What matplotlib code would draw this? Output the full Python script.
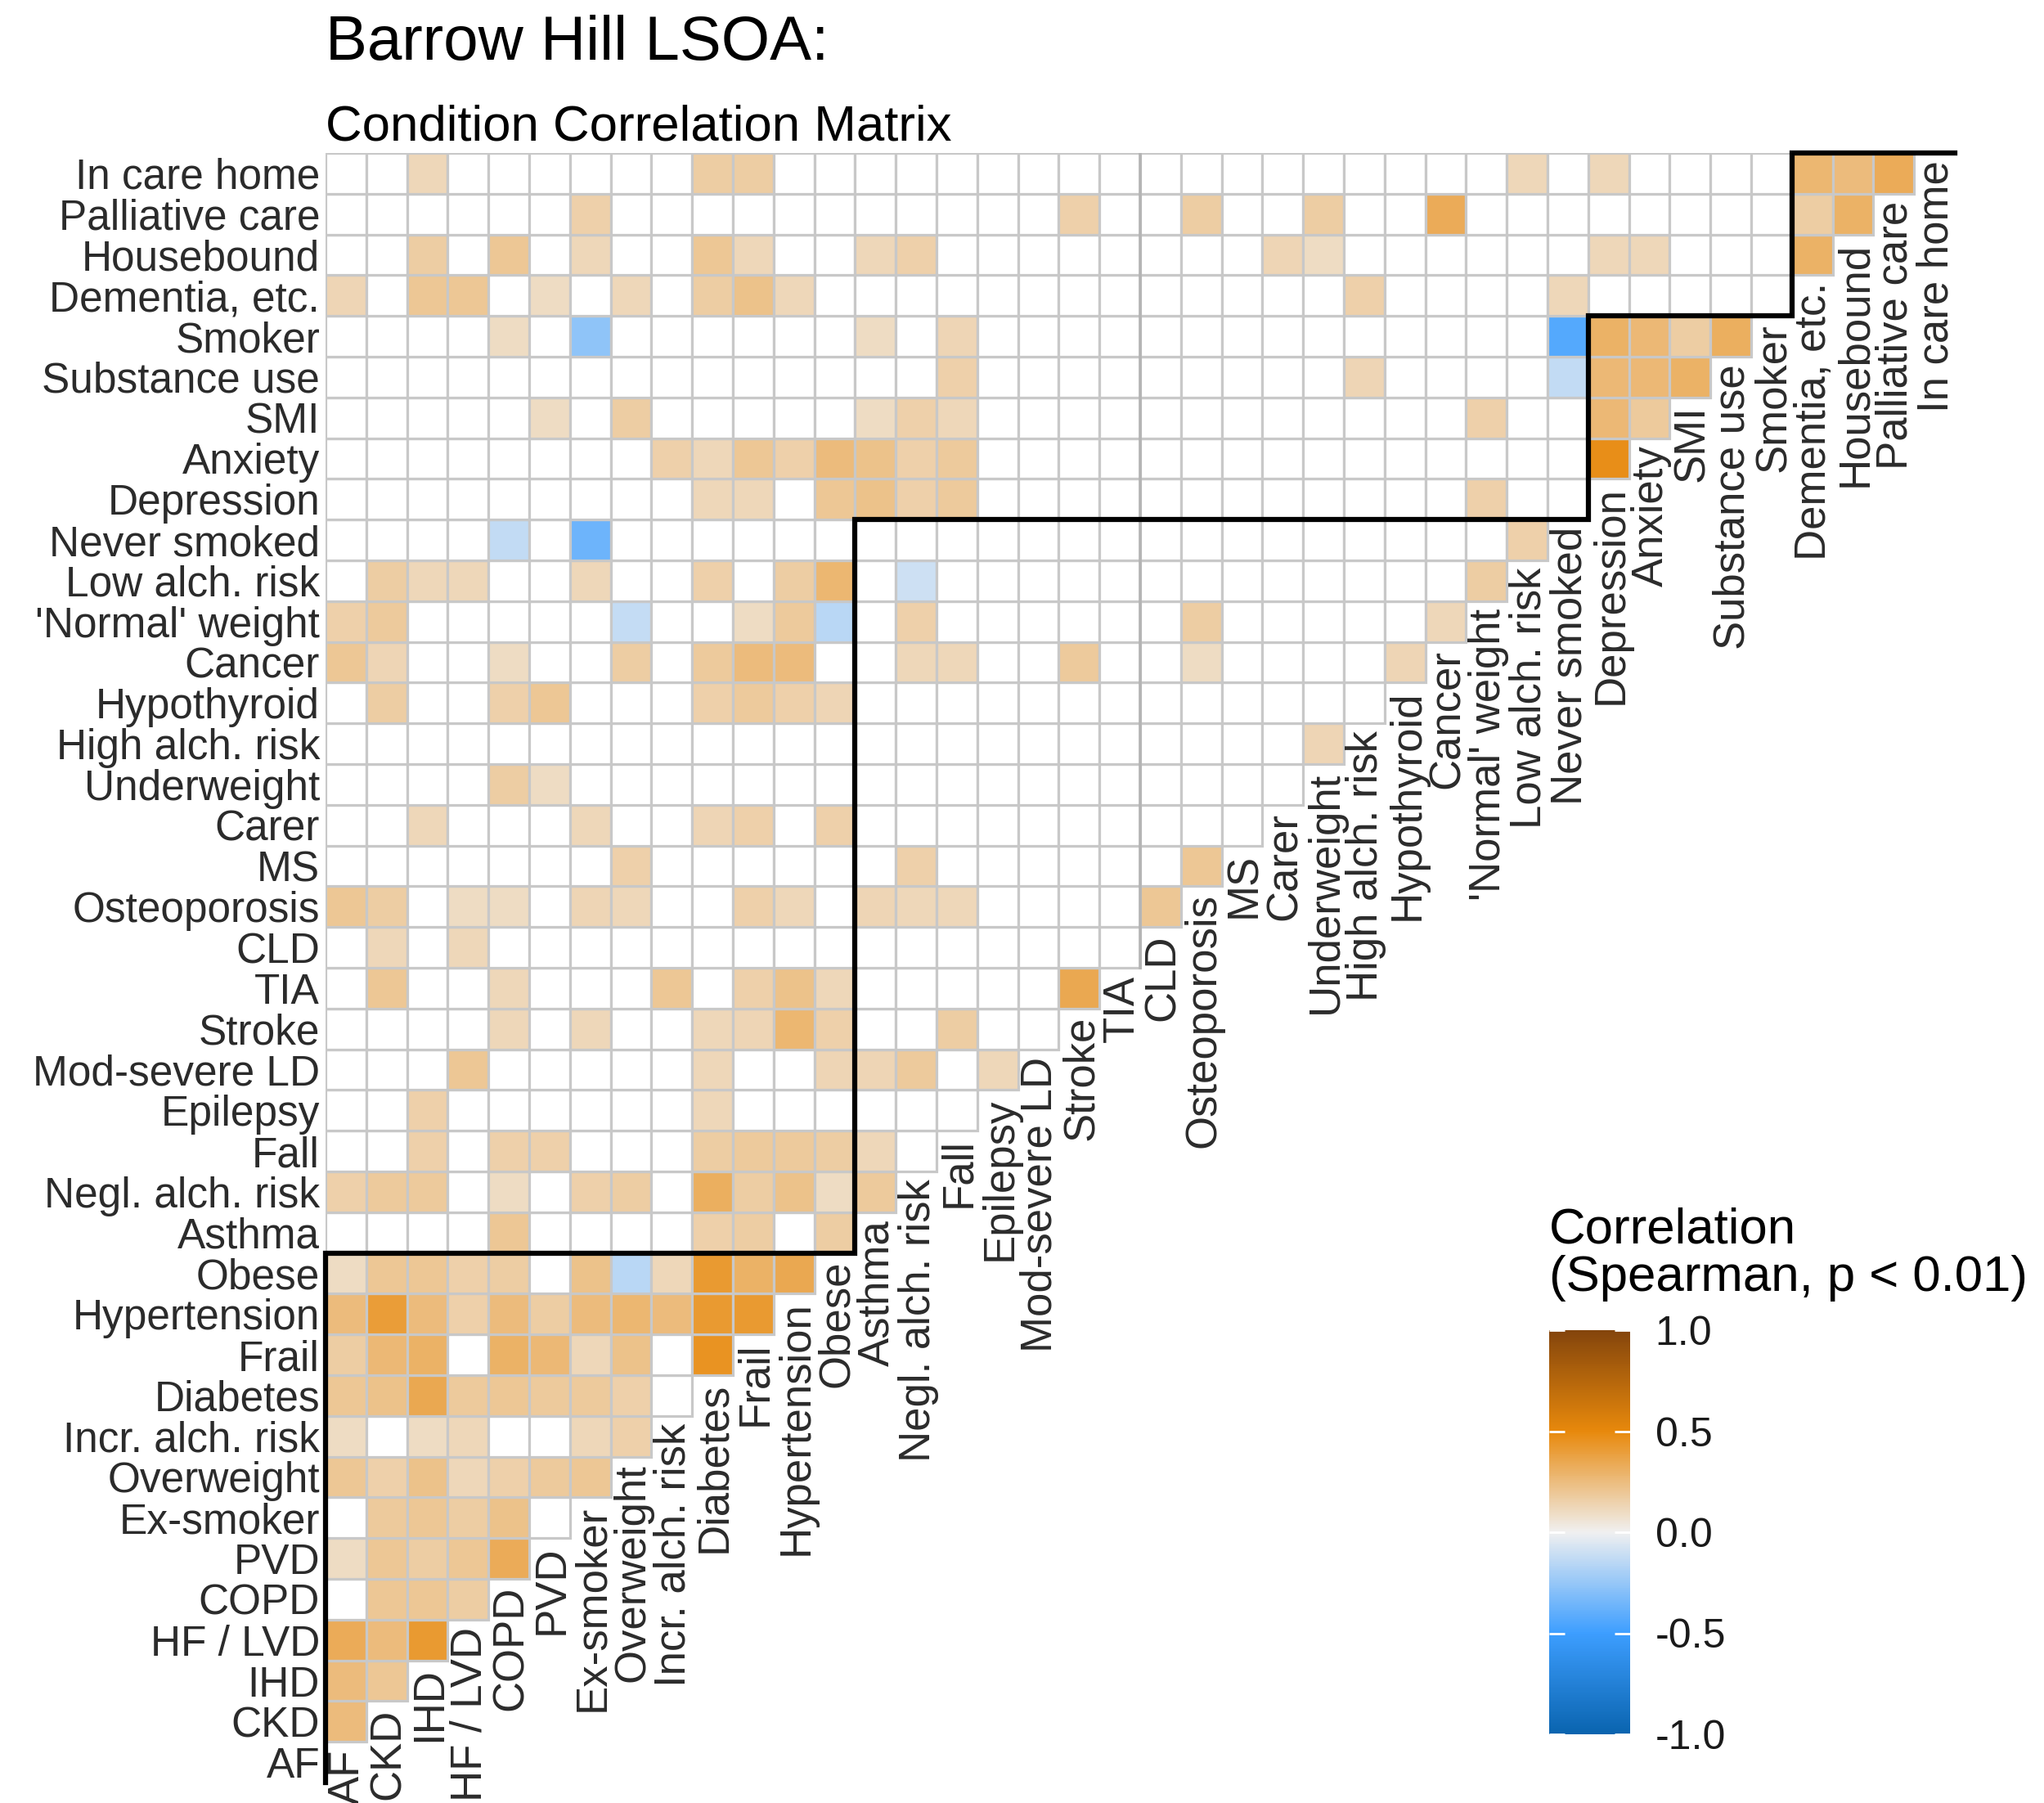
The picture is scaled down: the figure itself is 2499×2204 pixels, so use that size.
import numpy as np
import matplotlib.pyplot as plt
from matplotlib.colors import LinearSegmentedColormap, Normalize
from matplotlib.patches import Rectangle
import matplotlib.cm as cm

plt.rcParams['font.family'] = ['Liberation Sans', 'DejaVu Sans']

# conditions, bottom row / left column first
conditions = ["AF", "CKD", "IHD", "HF / LVD", "COPD", "PVD", "Ex-smoker", "Overweight",
              "Incr. alch. risk", "Diabetes", "Frail", "Hypertension", "Obese",
              "Asthma", "Negl. alch. risk", "Fall", "Epilepsy", "Mod-severe LD", "Stroke",
              "TIA", "CLD", "Osteoporosis", "MS", "Carer", "Underweight", "High alch. risk",
              "Hypothyroid", "Cancer", "'Normal' weight", "Low alch. risk", "Never smoked",
              "Depression", "Anxiety", "SMI", "Substance use", "Smoker",
              "Dementia, etc.", "Housebound", "Palliative care", "In care home"]

# sizes of the clusters marked by the black staircase
cluster_sizes = [13, 18, 5, 4]

# lower triangle: row i = correlation of condition i with conditions 0..i-1
# (0 = not significant at p < 0.01)
rho = [
    [],
    [0.25],
    [0.25, 0.2],
    [0.33, 0.25, 0.42],
    [0, 0.2, 0.2, 0.17],
    [0.1, 0.2, 0.17, 0.2, 0.33],
    [0, 0.18, 0.2, 0.17, 0.22, 0],
    [0.2, 0.15, 0.22, 0.12, 0.15, 0.18, 0.2],
    [0.1, 0, 0.1, 0.12, 0, 0, 0.12, 0.15],
    [0.2, 0.22, 0.35, 0.18, 0.2, 0.18, 0.18, 0.15, 0],
    [0.17, 0.27, 0.3, 0, 0.3, 0.27, 0.12, 0.22, 0, 0.45],
    [0.25, 0.4, 0.25, 0.15, 0.25, 0.17, 0.25, 0.28, 0.25, 0.42, 0.42],
    [0.1, 0.2, 0.2, 0.15, 0.17, 0, 0.22, -0.15, 0.12, 0.42, 0.3, 0.35],
    [0, 0, 0, 0, 0.2, 0, 0, 0, 0, 0.15, 0.17, 0, 0.17],
    [0.15, 0.18, 0.18, 0, 0.1, 0, 0.15, 0.17, 0, 0.32, 0.17, 0.22, 0.1, 0.18],
    [0, 0, 0.15, 0, 0.15, 0.15, 0, 0, 0, 0.17, 0.18, 0.18, 0.17, 0.12, 0],
    [0, 0, 0.15, 0, 0, 0, 0, 0, 0, 0.12, 0, 0, 0, 0, 0, 0],
    [0, 0, 0, 0.2, 0, 0, 0, 0, 0, 0.12, 0, 0, 0.13, 0.13, 0.18, 0, 0.12],
    [0, 0, 0, 0, 0.12, 0, 0.12, 0, 0, 0.12, 0.13, 0.28, 0.15, 0, 0, 0.17, 0, 0],
    [0, 0.2, 0, 0, 0.12, 0, 0, 0, 0.2, 0, 0.15, 0.22, 0.12, 0, 0, 0, 0, 0, 0.35],
    [0, 0.12, 0, 0.12, 0, 0, 0, 0, 0, 0, 0, 0, 0, 0, 0, 0, 0, 0, 0, 0],
    [0.2, 0.17, 0, 0.1, 0.1, 0, 0.13, 0.12, 0, 0, 0.15, 0.12, 0, 0.13, 0.12, 0.12, 0, 0, 0, 0,
     0.2],
    [0, 0, 0, 0, 0, 0, 0, 0.15, 0, 0, 0, 0, 0, 0, 0.15, 0, 0, 0, 0, 0,
     0, 0.2],
    [0, 0, 0.12, 0, 0, 0, 0.12, 0, 0, 0.13, 0.15, 0, 0.15, 0, 0, 0, 0, 0, 0, 0,
     0, 0, 0],
    [0, 0, 0, 0, 0.17, 0.1, 0, 0, 0, 0, 0, 0, 0, 0, 0, 0, 0, 0, 0, 0,
     0, 0, 0, 0],
    [0, 0, 0, 0, 0, 0, 0, 0, 0, 0, 0, 0, 0, 0, 0, 0, 0, 0, 0, 0,
     0, 0, 0, 0, 0.13],
    [0, 0.17, 0, 0, 0.15, 0.2, 0, 0, 0, 0.15, 0.18, 0.15, 0.13, 0, 0, 0, 0, 0, 0, 0,
     0, 0, 0, 0, 0, 0],
    [0.2, 0.13, 0, 0, 0.1, 0, 0, 0.17, 0, 0.18, 0.25, 0.25, 0, 0, 0.12, 0.12, 0, 0, 0.18, 0,
     0, 0.1, 0, 0, 0, 0, 0.13],
    [0.15, 0.18, 0, 0, 0, 0, 0, -0.12, 0, 0, 0.1, 0.18, -0.15, 0, 0.15, 0, 0, 0, 0, 0,
     0, 0.17, 0, 0, 0, 0, 0, 0.12],
    [0, 0.17, 0.12, 0.12, 0, 0, 0.12, 0, 0, 0.15, 0, 0.17, 0.28, 0, -0.1, 0, 0, 0, 0, 0,
     0, 0, 0, 0, 0, 0, 0, 0, 0.17],
    [0, 0, 0, 0, -0.13, 0, -0.36, 0, 0, 0, 0, 0, 0, 0, 0, 0, 0, 0, 0, 0,
     0, 0, 0, 0, 0, 0, 0, 0, 0, 0.15],
    [0, 0, 0, 0, 0, 0, 0, 0, 0, 0.12, 0.12, 0, 0.2, 0.22, 0.15, 0.18, 0, 0, 0, 0,
     0, 0, 0, 0, 0, 0, 0, 0, 0.15, 0, 0],
    [0, 0, 0, 0, 0, 0, 0, 0, 0.15, 0.12, 0.2, 0.15, 0.25, 0.22, 0.15, 0.18, 0, 0, 0, 0,
     0, 0, 0, 0, 0, 0, 0, 0, 0, 0, 0, 0.47],
    [0, 0, 0, 0, 0, 0.1, 0, 0.17, 0, 0, 0, 0, 0, 0.1, 0.15, 0.12, 0, 0, 0, 0,
     0, 0, 0, 0, 0, 0, 0, 0, 0.15, 0, 0, 0.27, 0.18],
    [0, 0, 0, 0, 0, 0, 0, 0, 0, 0, 0, 0, 0, 0, 0, 0.15, 0, 0, 0, 0,
     0, 0, 0, 0, 0, 0.13, 0, 0, 0, 0, -0.13, 0.27, 0.27, 0.3],
    [0, 0, 0, 0, 0.1, 0, -0.27, 0, 0, 0, 0, 0, 0, 0.1, 0, 0.13, 0, 0, 0, 0,
     0, 0, 0, 0, 0, 0, 0, 0, 0, 0, -0.43, 0.3, 0.27, 0.17, 0.32],
    [0.13, 0, 0.2, 0.2, 0, 0.1, 0, 0.12, 0, 0.17, 0.22, 0.12, 0, 0, 0, 0, 0, 0, 0, 0,
     0, 0, 0, 0, 0, 0.15, 0, 0, 0, 0, 0.12, 0, 0, 0, 0, 0],
    [0, 0, 0.17, 0, 0.2, 0, 0.12, 0, 0, 0.2, 0.12, 0, 0, 0.12, 0.15, 0, 0, 0, 0, 0,
     0, 0, 0, 0.13, 0.1, 0, 0, 0, 0, 0, 0, 0.12, 0.12, 0, 0, 0, 0.3],
    [0, 0, 0, 0, 0, 0, 0.15, 0, 0, 0, 0, 0, 0, 0, 0, 0, 0, 0, 0.15, 0,
     0, 0.17, 0, 0, 0.17, 0, 0, 0.33, 0, 0, 0, 0, 0, 0, 0, 0, 0.17, 0.3],
    [0, 0, 0.12, 0, 0, 0, 0, 0, 0, 0.17, 0.17, 0, 0, 0, 0, 0, 0, 0, 0, 0,
     0, 0, 0, 0, 0, 0, 0, 0, 0, 0.12, 0, 0.12, 0, 0, 0, 0, 0.28, 0.25, 0.33],
]

cbar_ticks = [-1.0, -0.5, 0.0, 0.5, 1.0]

n = len(conditions)
cmap = LinearSegmentedColormap.from_list(
    "corr", [(0.0, "#0a64af"), (0.25, "#3d9eff"), (0.5, "#f0f0f0"),
             (0.75, "#e8890c"), (1.0, "#84450c")])
norm = Normalize(-1, 1)

fig = plt.figure(figsize=(24.99, 22.04), dpi=100)
ax = fig.add_axes([398/2499, 1 - 2179/2204, 1992/2499, 1992/2204])
ax.set_xlim(0, n)
ax.set_ylim(0, n)
for s in ax.spines.values():
    s.set_visible(False)
ax.set_xticks([])
ax.set_yticks(np.arange(n) + 0.5)
ax.set_yticklabels(conditions, fontsize=37, color="#2b2b2b")
ax.tick_params(axis="y", length=0, pad=5)

# tiles
for i, row in enumerate(rho):
    for j, v in enumerate(row):
        fc = "white" if v == 0 else cmap(norm(v))
        ax.add_patch(Rectangle((j, i), 1, 1, facecolor=fc, edgecolor="#c8c8c8", lw=2.3))

ax.plot([20, 20], [20, n], color="#b4b4b4", lw=2.6, zorder=3)

# labels along the diagonal
for k, name in enumerate(conditions):
    ax.text(k + 0.55, k + 0.82, name, rotation=90, ha="center", va="top",
            fontsize=38, color="#2b2b2b", clip_on=False)

# cluster staircase
edges = np.concatenate([[0], np.cumsum(cluster_sizes)])
xs, ys = [0], [0]
for a, b in zip(edges[:-1], edges[1:]):
    xs += [a, b]
    ys += [b, b]
ax.plot(xs, ys, color="black", lw=4.5, clip_on=False, zorder=5, solid_joinstyle="miter")

fig.text(398/2499, 1 - 73/2204, "Barrow Hill LSOA:", fontsize=55, va="baseline")
fig.text(398/2499, 1 - 172/2204, "Condition Correlation Matrix", fontsize=44.5, va="baseline")

# legend
fig.text(1894/2499, 1 - 1519/2204, "Correlation", fontsize=44.5, va="baseline")
fig.text(1894/2499, 1 - 1578/2204, "(Spearman, p < 0.01)", fontsize=44.5, va="baseline")
cax = fig.add_axes([1894/2499, 1 - 2120/2204, 99/2499, 494/2204])
sm = cm.ScalarMappable(norm=norm, cmap=cmap)
cb = fig.colorbar(sm, cax=cax, ticks=cbar_ticks)
cb.outline.set_visible(False)
cb.ax.set_yticklabels([f"{t:.1f}" for t in cbar_ticks])
cax.tick_params(axis="y", direction="in", length=14, width=2, color="white",
                labelcolor="#1a1a1a", labelsize=36, pad=22, left=True, right=True)

fig.savefig("out.png", dpi=100)
